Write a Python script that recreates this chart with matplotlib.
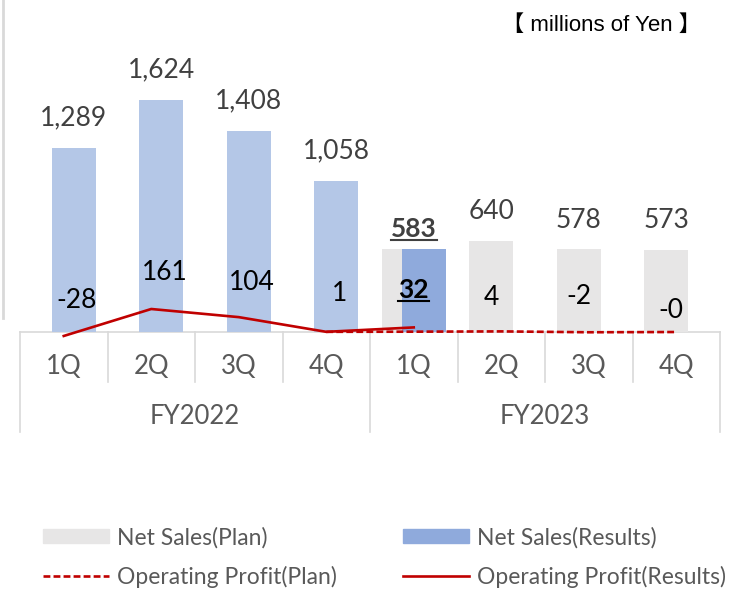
import matplotlib
matplotlib.use('Agg')
import matplotlib.pyplot as plt
from matplotlib.lines import Line2D
from matplotlib.patches import Patch

plt.rcParams['font.family'] = ['Lato', 'DejaVu Sans']

quarters = ['1Q', '2Q', '3Q', '4Q', '1Q', '2Q', '3Q', '4Q']
years = ['FY2022', 'FY2023']
sales_results = [1289, 1624, 1408, 1058, 583]
sales_plan = [583, 640, 578, 573]
profit_results = [-28, 161, 104, 1, 32]
profit_plan = [1, 2, 4, -2, -0.3]
profit_plan_labels = ['4', '-2', '-0']

C_RES22 = '#B4C7E7'
C_RES23 = '#8FAADC'
C_PLAN = '#E7E6E6'
C_RED = '#C00000'

fig = plt.figure(figsize=(7.32, 5.89), dpi=100)
ax = fig.add_axes([20 / 732, 0.3637, 700 / 732, 0.5572])
ax.set_xlim(-0.5, 7.5)
ax.set_ylim(-300, 2000)
ax.axis('off')

w = 0.5
off = 0.115
n_res = len(sales_results)
x_res = [i + off for i in range(n_res)]
x_plan = [4 + i - off for i in range(len(sales_plan))]

ax.bar(x_plan, sales_plan, width=w, color=C_PLAN, zorder=2)
ax.bar(x_res[:4], sales_results[:4], width=w, color=C_RES22, zorder=3)
ax.bar(x_res[4:], sales_results[4:], width=w, color=C_RES23, zorder=3)

ax.plot(range(3, 3 + len(profit_plan)), profit_plan, color=C_RED, lw=1.9,
        ls=(0, (2.6, 1.2)), zorder=4)
ax.plot(range(len(profit_results)), profit_results, color=C_RED, lw=1.9,
        zorder=5)

# net sales labels
fs = 19
for i, v in enumerate(sales_results[:4]):
    ax.text(x_res[i], v + 210, f'{v:,}', ha='center', va='center',
            fontsize=fs, color='#404040')
for i, v in enumerate(sales_plan[1:]):
    ax.text(x_plan[i + 1], v + 205, f'{v:,}', ha='center', va='center',
            fontsize=fs, color='#404040')
t583 = ax.text(4, sales_plan[0] + 140, f'{sales_results[4]:,}', ha='center',
               va='center', fontsize=fs, color='#404040', fontweight='bold')

# operating profit labels
p_y = [224, 420, 350, 273, 294]
for i, v in enumerate(profit_results[:4]):
    ax.text(i + 0.15, p_y[i], f'{v}', ha='center', va='center', fontsize=fs,
            color='black')
t32 = ax.text(4, p_y[4], f'{profit_results[4]}', ha='center', va='center',
              fontsize=fs, color='black', fontweight='bold')
plan_lab_y = [245, 252, 147]
for i, s in enumerate(profit_plan_labels):
    ax.text(x_plan[i + 1] + (0.05 if i == 2 else 0), plan_lab_y[i], s,
            ha='center', va='center', fontsize=fs, color='black')

# category table
grid = '#D9D9D9'
ax.plot([-0.5, 7.5], [0, 0], color=grid, lw=1.2, clip_on=False, zorder=1)
for k in range(9):
    bottom = -700 if k in (0, 4, 8) else -350
    ax.plot([k - 0.5, k - 0.5], [0, bottom], color=grid, lw=1.2, clip_on=False)
for i, q in enumerate(quarters):
    ax.text(i, -245, q, ha='center', va='center', fontsize=18.5, color='#595959')
for j, y in enumerate(years):
    ax.text(1.5 + 4 * j, -595, y, ha='center', va='center', fontsize=18.5,
            color='#595959')

fig.text(0.958, 0.957, '\u3010 millions of Yen \u3011', ha='right', va='center',
         fontsize=16, color='black', family=['Liberation Sans', 'Noto Sans CJK JP'])

fig.add_artist(Line2D([2.5 / 732, 2.5 / 732], [1, 1 - 318 / 589],
                      color='#D9D9D9', lw=2))

# legend, one per column
lfs = 16.5
col1 = [Patch(color=C_PLAN), Line2D([], [], color=C_RED, lw=1.9, ls=(0, (2.6, 1.2)))]
col2 = [Patch(color=C_RES23), Line2D([], [], color=C_RED, lw=1.9)]
lab1 = ['Net Sales(Plan)', 'Operating Profit(Plan)']
lab2 = ['Net Sales(Results)', 'Operating Profit(Results)']
for hs, ls_, x0 in ((col1, lab1, 43 / 732), (col2, lab2, 403 / 732)):
    leg = fig.legend(hs, ls_, loc='center left', bbox_to_anchor=(x0, 0.054),
                     frameon=False, fontsize=lfs, handlelength=2.9,
                     handleheight=0.57, labelspacing=0.75, handletextpad=0.35,
                     borderpad=0, borderaxespad=0)
    for t in leg.get_texts():
        t.set_color('#595959')

# underline the bold 1Q FY2023 labels
fig.canvas.draw()
r = fig.canvas.get_renderer()
for t in (t583, t32):
    bb = t.get_window_extent(r)
    yy = (bb.y0 + 1) / fig.bbox.height
    fig.add_artist(Line2D([bb.x0 / fig.bbox.width, bb.x1 / fig.bbox.width],
                          [yy, yy], color=t.get_color(), lw=1.5))

fig.savefig('out.png', dpi=100)
